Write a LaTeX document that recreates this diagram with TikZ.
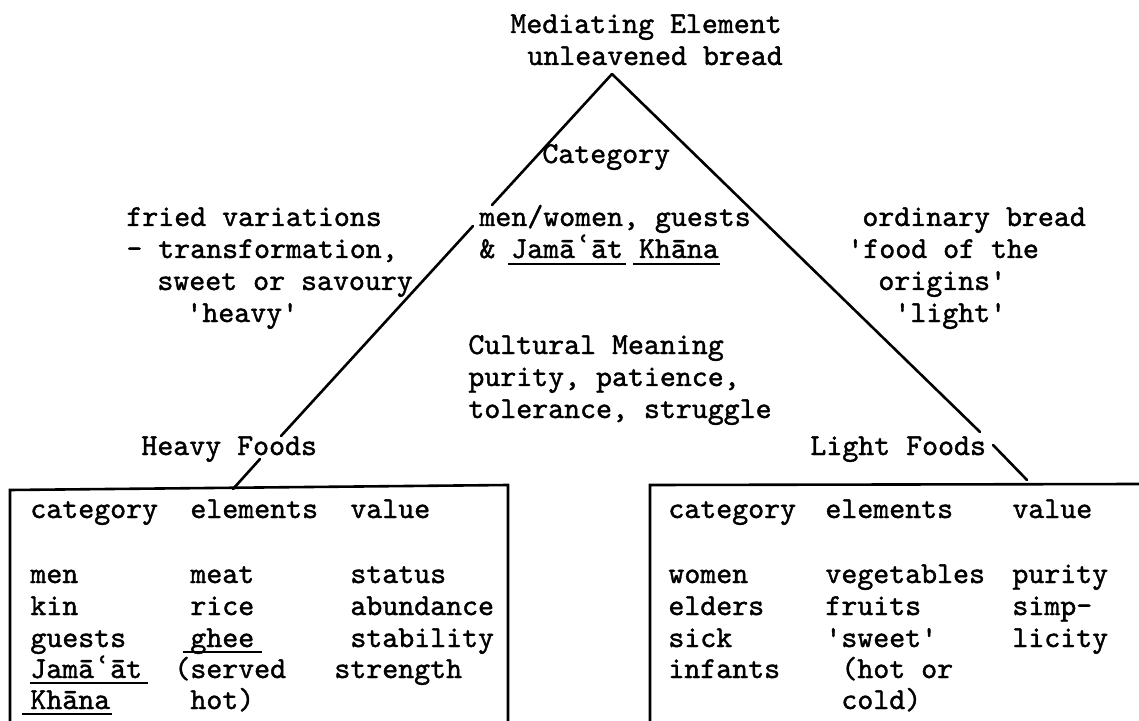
\documentclass[tikz,border=0pt]{standalone}
\usepackage{fontspec}
\newfontfamily\dvs{DejaVu Sans}
\newfontfamily\tw{lmmono10-regular.otf}[FakeBold=1.3]
\newcommand\ayn{\makebox[0.525em][c]{\dvs\bfseries\fontsize{15pt}{15pt}\selectfont ʿ}}
\begin{document}
\begin{tikzpicture}[x=0.5pt, y=-0.5pt,
  leg/.style={line width=1.3pt, line cap=round},
  boxline/.style={line width=1.3pt},
  uline/.style={line width=1pt},
  txt/.style={anchor=base west, inner sep=0pt, font=\fontsize{15.2pt}{18pt}\tw}]
\useasboundingbox[fill=white] (0,0) rectangle (1139,721);

% top label
\node[txt] (top1) at (510,33) {Mediating Element};
\node[txt] (top2) at (527,65) {unleavened bread};

% inside triangle
\node[txt] (cat) at (542,163) {Category};
\node[txt] (mw1) at (479,226) {men/women, guests};
\node[txt] (mw2) at (479,258) {\& Jam\={a}\ayn\={a}t Kh\={a}na};
\node[txt] (cm1) at (468,354) {Cultural Meaning};
\node[txt] (cm2) at (468,386) {purity, patience,};
\node[txt] (cm3) at (468,418) {tolerance, struggle};

% left side
\node[txt] (fv1) at (126,226) {fried variations};
\node[txt] (fv2) at (126,258) {- transformation,};
\node[txt] (fv3) at (157,290) {sweet or savoury};
\node[txt] (fv4) at (186,322) {'heavy'};

% right side
\node[txt] (ob1) at (862,226) {ordinary bread};
\node[txt] (ob2) at (847,258) {'food of the};
\node[txt] (ob3) at (878,290) {origins'};
\node[txt] (ob4) at (894,322) {'light'};

% foods labels
\node[txt] (hf) at (141,455) {Heavy Foods};
\node[txt] (lf) at (810,455) {Light Foods};

% triangle legs
\coordinate (apex) at (612,74);
\coordinate (L1) at (492,205);
\coordinate (L2) at (473,226);
\coordinate (L3) at (281,436);
\coordinate (L4) at (260,459);
\coordinate (LB) at (233,489);
\coordinate (R1) at (980,432);
\coordinate (R2) at (993,445);
\coordinate (RB) at (1027,480);
\draw[leg] (apex) -- (L1);
\draw[leg] (L2) -- (L3);
\draw[leg] (L4) -- (LB);
\draw[leg] (apex) -- (R1);
\draw[leg] (R2) -- (RB);

% boxes
\coordinate (hbl) at (10,722);
\coordinate (htl) at (10,490);
\coordinate (htr) at (508,485);
\coordinate (hbr) at (508,722);
\draw[boxline] (hbl) -- (htl) -- (htr) -- (hbr);
\coordinate (lbl) at (650,722);
\coordinate (ltl) at (650,485);
\coordinate (ltr) at (1140,484);
\draw[boxline] (lbl) -- (ltl) -- (ltr);

% heavy foods table
\node[txt] (hh1) at (30,518) {category};
\node[txt] (hh2) at (190,518) {elements};
\node[txt] (hh3) at (350,518) {value};
\node[txt] (ha1) at (30,583) {men};
\node[txt] (ha2) at (30,615) {kin};
\node[txt] (ha3) at (30,647) {guests};
\node[txt] (ha4) at (30,678) {Jam\={a}\ayn\={a}t};
\node[txt] (ha5) at (30,709) {Kh\={a}na};
\node[txt] (hb1) at (190,583) {meat};
\node[txt] (hb2) at (190,615) {rice};
\node[txt] (hb3) at (190,647) {ghee};
\node[txt] (hb4) at (174,678) {(served};
\node[txt] (hb5) at (190,709) {hot)};
\node[txt] (hc1) at (350,583) {status};
\node[txt] (hc2) at (350,615) {abundance};
\node[txt] (hc3) at (350,647) {stability};
\node[txt] (hc4) at (334,678) {strength};

% light foods table
\node[txt] (lh1) at (668,518) {category};
\node[txt] (lh2) at (825,518) {elements};
\node[txt] (lh3) at (1012,518) {value};
\node[txt] (la1) at (668,583) {women};
\node[txt] (la2) at (668,615) {elders};
\node[txt] (la3) at (668,647) {sick};
\node[txt] (la4) at (668,678) {infants};
\node[txt] (lb1) at (825,583) {vegetables};
\node[txt] (lb2) at (825,615) {fruits};
\node[txt] (lb3) at (825,647) {'sweet'};
\node[txt] (lb4) at (841,678) {(hot or};
\node[txt] (lb5) at (841,709) {cold)};
\node[txt] (lc1) at (1012,583) {purity};
\node[txt] (lc2) at (1012,615) {simp-};
\node[txt] (lc3) at (1012,647) {licity};

% underlines
\draw[uline] (508,264) -- (626,264);
\draw[uline] (633,264) -- (720,264);
\draw[uline] (183,652) -- (262,652);
\draw[uline] (30,683) -- (148,683);
\draw[uline] (22,714) -- (112,714);
\end{tikzpicture}
\end{document}
